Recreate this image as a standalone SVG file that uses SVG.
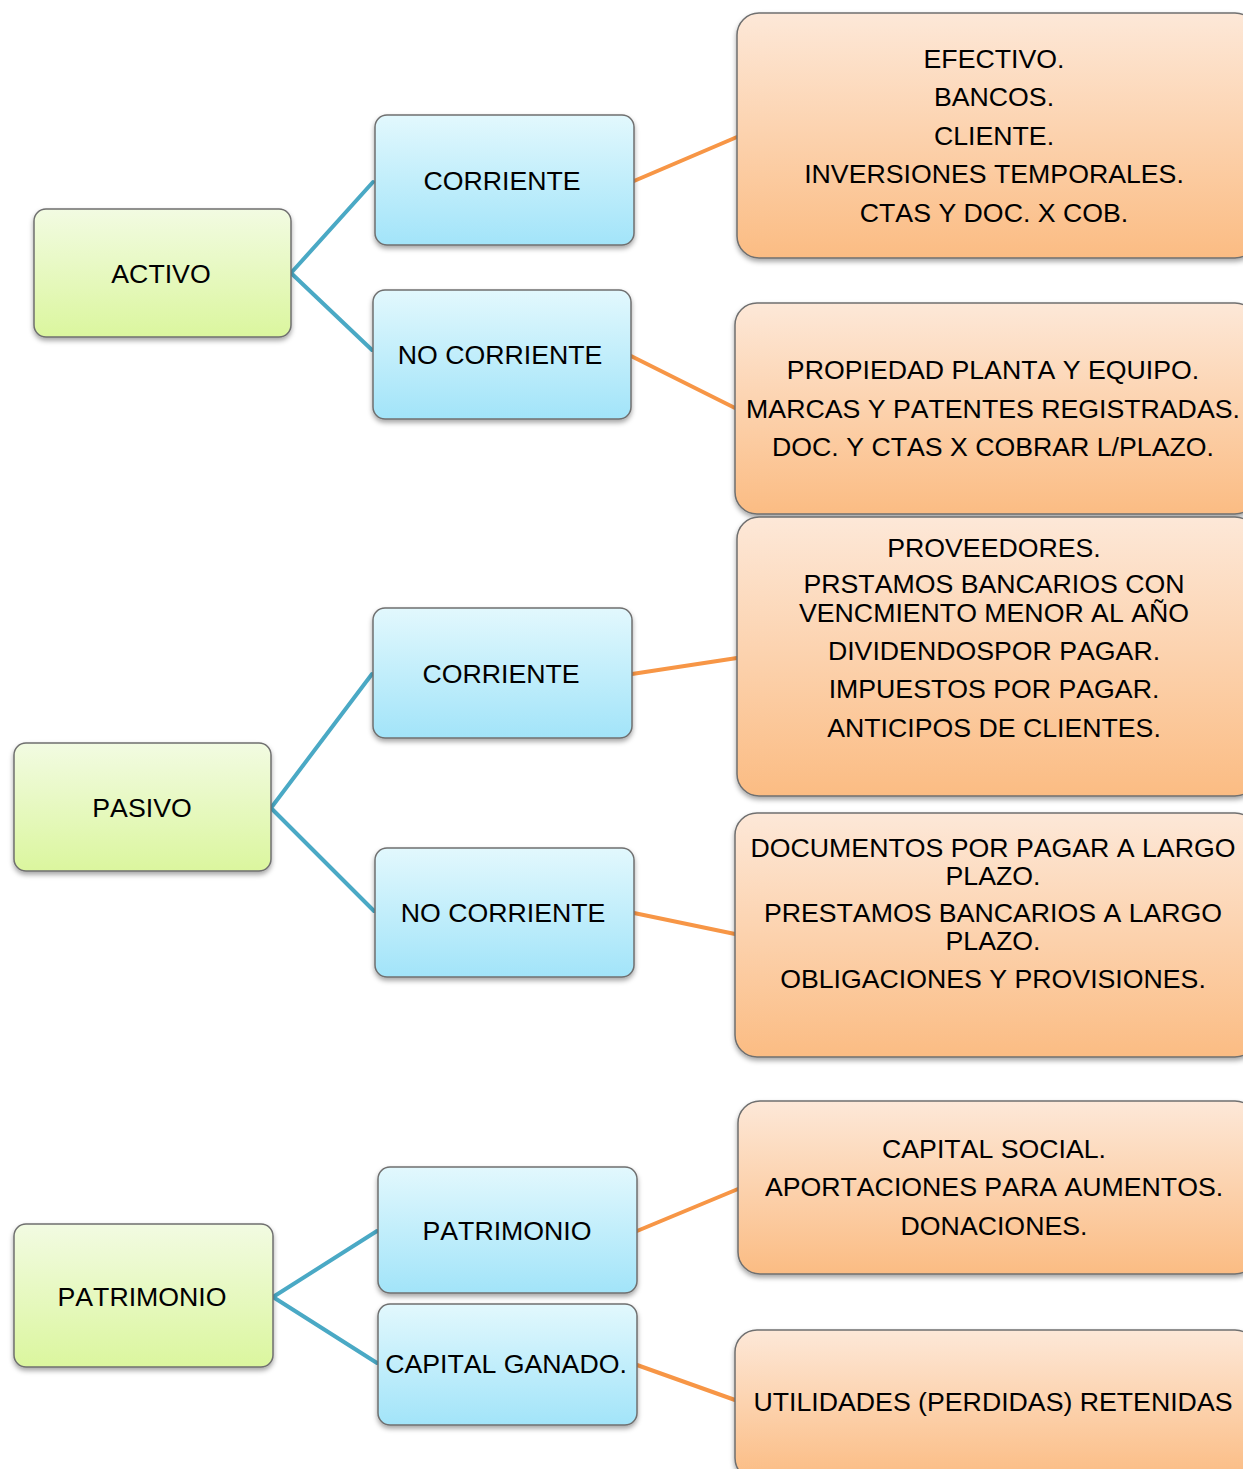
<svg xmlns="http://www.w3.org/2000/svg" width="1243" height="1469" viewBox="0 0 1243 1469">
<defs>
<linearGradient id="gG" x1="0" y1="0" x2="0" y2="1"><stop offset="0" stop-color="#f2fbe2"/><stop offset="1" stop-color="#dbf69e"/></linearGradient>
<linearGradient id="gB" x1="0" y1="0" x2="0" y2="1"><stop offset="0" stop-color="#e2f8fd"/><stop offset="1" stop-color="#a2e4f9"/></linearGradient>
<linearGradient id="gO" x1="0" y1="0" x2="0" y2="1"><stop offset="0" stop-color="#fde8d8"/><stop offset="1" stop-color="#fbbc83"/></linearGradient>
<filter id="sh" x="-10%" y="-10%" width="120%" height="130%"><feDropShadow dx="0" dy="3" stdDeviation="2.5" flood-color="#000" flood-opacity="0.35"/></filter>
<style>
.box{stroke:#6f6f6f;stroke-width:1.5;filter:url(#sh)}
.g{fill:url(#gG)} .b{fill:url(#gB)} .o{fill:url(#gO)}
text{font-family:"Liberation Sans",Arial,sans-serif;font-size:26.7px;fill:#000;text-anchor:middle;font-kerning:none}
.cb{stroke:#4aa9c5;stroke-width:4;fill:none;stroke-linecap:round;stroke-linejoin:round}
.co{stroke:#f79646;stroke-width:4;fill:none;stroke-linecap:round}
</style>
</defs>
<rect width="1243" height="1469" fill="#fff"/>
<g id="connectors">
<polyline class="cb" points="373,182 291,273 372,350"/>
<polyline class="cb" points="372,674 271,808 374,911"/>
<polyline class="cb" points="377,1231 273,1297 377,1363"/>
<line class="co" x1="634" y1="181" x2="737" y2="137"/>
<line class="co" x1="631" y1="356" x2="735" y2="408"/>
<line class="co" x1="632" y1="674" x2="737" y2="658"/>
<line class="co" x1="634" y1="913" x2="735" y2="934"/>
<line class="co" x1="637" y1="1231" x2="738" y2="1189"/>
<line class="co" x1="637" y1="1365" x2="735" y2="1400"/>
</g>
<g id="n-activo"><rect class="box g" x="34" y="209" width="257" height="128" rx="12"/><text x="161" y="283">ACTIVO</text></g>
<g id="n-pasivo"><rect class="box g" x="14" y="743" width="257" height="128" rx="12"/><text x="142" y="817">PASIVO</text></g>
<g id="n-patrimonio"><rect class="box g" x="14" y="1224" width="259" height="143" rx="12"/><text x="142" y="1306">PATRIMONIO</text></g>
<g id="n-corriente1"><rect class="box b" x="375" y="115" width="259" height="130" rx="12"/><text x="502" y="190">CORRIENTE</text></g>
<g id="n-nocorriente1"><rect class="box b" x="373" y="290" width="258" height="129" rx="12"/><text x="500" y="364">NO CORRIENTE</text></g>
<g id="n-corriente2"><rect class="box b" x="373" y="608" width="259" height="130" rx="12"/><text x="501" y="683">CORRIENTE</text></g>
<g id="n-nocorriente2"><rect class="box b" x="375" y="848" width="259" height="129" rx="12"/><text x="503" y="922">NO CORRIENTE</text></g>
<g id="n-patrimonio2"><rect class="box b" x="378" y="1167" width="259" height="126" rx="12"/><text x="507" y="1240">PATRIMONIO</text></g>
<g id="n-capitalganado"><rect class="box b" x="378" y="1304" width="259" height="121" rx="12"/><text x="506" y="1373">CAPITAL GANADO.</text></g>
<g id="n-o1"><rect class="box o" x="737" y="13" width="520" height="245" rx="22"/>
<text x="994" y="68">EFECTIVO.</text><text x="994" y="106">BANCOS.</text><text x="994" y="145">CLIENTE.</text><text x="994" y="183">INVERSIONES TEMPORALES.</text><text x="994" y="222">CTAS Y DOC. X COB.</text></g>
<g id="n-o2"><rect class="box o" x="735" y="303" width="522" height="211" rx="22"/>
<text x="993" y="379">PROPIEDAD PLANTA Y EQUIPO.</text><text x="993" y="418">MARCAS Y PATENTES REGISTRADAS.</text><text x="993" y="456">DOC. Y CTAS X COBRAR L/PLAZO.</text></g>
<g id="n-o3"><rect class="box o" x="737" y="517" width="520" height="279" rx="22"/>
<text x="994" y="557">PROVEEDORES.</text><text x="994" y="593">PRSTAMOS BANCARIOS CON</text><text x="994" y="622">VENCMIENTO MENOR AL AÑO</text><text x="994" y="660">DIVIDENDOSPOR PAGAR.</text><text x="994" y="698">IMPUESTOS POR PAGAR.</text><text x="994" y="737">ANTICIPOS DE CLIENTES.</text></g>
<g id="n-o4"><rect class="box o" x="735" y="813" width="522" height="244" rx="22"/>
<text x="993" y="857">DOCUMENTOS POR PAGAR A LARGO</text><text x="993" y="885">PLAZO.</text><text x="993" y="922">PRESTAMOS BANCARIOS A LARGO</text><text x="993" y="950">PLAZO.</text><text x="993" y="988">OBLIGACIONES Y PROVISIONES.</text></g>
<g id="n-o5"><rect class="box o" x="738" y="1101" width="519" height="173" rx="22"/>
<text x="994" y="1158">CAPITAL SOCIAL.</text><text x="994" y="1196">APORTACIONES PARA AUMENTOS.</text><text x="994" y="1235">DONACIONES.</text></g>
<g id="n-o6"><rect class="box o" x="735" y="1330" width="522" height="150" rx="22"/>
<text x="993" y="1411">UTILIDADES (PERDIDAS) RETENIDAS</text></g>
</svg>
